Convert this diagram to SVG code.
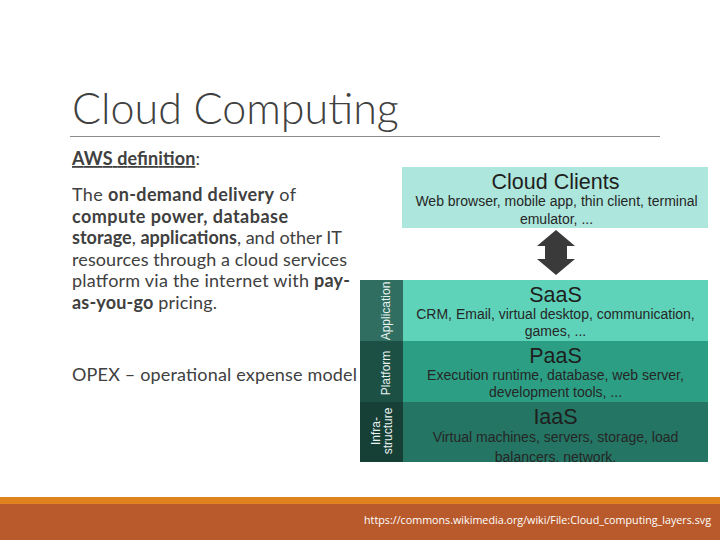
<svg xmlns="http://www.w3.org/2000/svg" width="720" height="540" viewBox="0 0 720 540">
<defs>
<style>
.title{font-family:Lato,"Open Sans",sans-serif;font-weight:300;font-size:43px;fill:#404040}
.body{font-family:Lato,"Open Sans",sans-serif;font-size:18px;fill:#404040}
.b{font-weight:bold}
.dh{font-family:"Liberation Sans",Arial,sans-serif;font-size:21.5px;fill:#1e1e1e;text-anchor:middle}
.dt{font-family:"Liberation Sans",Arial,sans-serif;font-size:14px;fill:#262626;text-anchor:middle}
.vl{font-family:"Liberation Sans",Arial,sans-serif;font-size:12px;fill:#e8f2ef;text-anchor:middle}
.foot{font-family:"Open Sans",sans-serif;font-size:10.5px;fill:#ffffff}
</style>
<clipPath id="iaasClip"><rect x="403" y="402" width="305" height="60"/></clipPath>
</defs>
<rect width="720" height="540" fill="#ffffff"/>

<g id="title">
<text class="title" x="72" y="124">Cloud Computing</text>
<line x1="70" y1="136.5" x2="660" y2="136.5" stroke="#8c8c8c" stroke-width="1"/>
</g>

<g id="text-left">
<text class="body" x="72" y="165" textLength="128" lengthAdjust="spacing"><tspan class="b" text-decoration="underline">AWS definition</tspan>:</text>
<text class="body" x="72" y="201" textLength="224" lengthAdjust="spacing">The <tspan class="b">on-demand delivery</tspan> of</text>
<text class="body" x="72" y="222.5" textLength="216" lengthAdjust="spacing"><tspan class="b">compute power, database</tspan></text>
<text class="body" x="72" y="244" textLength="270" lengthAdjust="spacing"><tspan class="b">storage</tspan>, <tspan class="b">applications</tspan>, and other IT</text>
<text class="body" x="72" y="265.5" textLength="275" lengthAdjust="spacing">resources through a cloud services</text>
<text class="body" x="72" y="287" textLength="278" lengthAdjust="spacing">platform via the internet with <tspan class="b">pay-</tspan></text>
<text class="body" x="72" y="308.5" textLength="145" lengthAdjust="spacing"><tspan class="b">as-you-go</tspan> pricing.</text>
<text class="body" x="72" y="381" textLength="285" lengthAdjust="spacing">OPEX – operational expense model</text>
</g>

<g id="cloud-clients">
<rect x="402" y="167" width="306" height="61" fill="#ade6dc"/>
<text class="dh" x="555.5" y="189">Cloud Clients</text>
<text class="dt" x="556.5" y="206">Web browser, mobile app, thin client, terminal</text>
<text class="dt" x="556.5" y="224">emulator, ...</text>
</g>

<g id="connectors">
<polygon points="556,230 575,246 567,246 567,259 575,259 556,275 537,259 545,259 545,246 537,246" fill="#3a3a3a"/>
</g>

<g id="saas">
<rect x="360" y="280" width="43" height="61" fill="#2f6e61"/>
<rect x="403" y="280" width="305" height="61" fill="#5fd3ba"/>
<text class="vl" transform="translate(390,311) rotate(-90)">Application</text>
<text class="dh" x="555.5" y="302">SaaS</text>
<text class="dt" x="555.5" y="319">CRM, Email, virtual desktop, communication,</text>
<text class="dt" x="555.5" y="336">games, ...</text>
</g>

<g id="paas">
<rect x="360" y="341" width="43" height="61" fill="#1d5045"/>
<rect x="403" y="341" width="305" height="61" fill="#2c9e84"/>
<text class="vl" transform="translate(390,373) rotate(-90)">Platform</text>
<text class="dh" x="555.5" y="363">PaaS</text>
<text class="dt" x="555.5" y="380">Execution runtime, database, web server,</text>
<text class="dt" x="555.5" y="397">development tools, ...</text>
</g>

<g id="iaas">
<rect x="360" y="402" width="43" height="60" fill="#163f36"/>
<rect x="403" y="402" width="305" height="60" fill="#247563"/>
<text class="vl" transform="translate(380,431) rotate(-90)">Infra-</text>
<text class="vl" transform="translate(392,431) rotate(-90)">structure</text>
<text class="dh" x="555.5" y="424">IaaS</text>
<g clip-path="url(#iaasClip)">
<text class="dt" x="555.5" y="441.5">Virtual machines, servers, storage, load</text>
<text class="dt" x="555.5" y="462">balancers, network,</text>
</g>
</g>

<g id="footer">
<rect x="0" y="497" width="720" height="7" fill="#e0821d"/>
<rect x="0" y="504" width="720" height="36" fill="#b95a2c"/>
<text class="foot" x="364" y="524" textLength="347" lengthAdjust="spacingAndGlyphs">https://commons.wikimedia.org/wiki/File:Cloud_computing_layers.svg</text>
</g>
</svg>
